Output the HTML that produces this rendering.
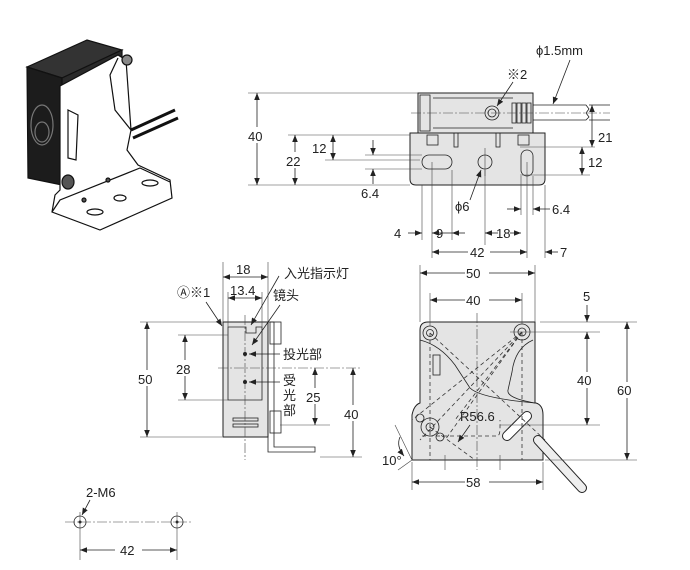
<!DOCTYPE html>
<html><head><meta charset="utf-8"><style>
html,body{margin:0;padding:0;background:#fff;width:690px;height:570px;overflow:hidden}
svg{display:block}
text{font-family:"Liberation Sans","Noto Sans CJK SC",sans-serif;font-size:13px;fill:#222}
.l{stroke:#222;stroke-width:0.8;fill:none}
.t{stroke:#444;stroke-width:0.6;fill:none}
.c{stroke:#444;stroke-width:0.6;fill:none;stroke-dasharray:10 2 2 2}
.d{stroke:#333;stroke-width:0.8;fill:none;stroke-dasharray:4 3}
.p{fill:#e4e4e4;stroke:#222;stroke-width:1}
</style></head><body>
<svg width="690" height="570" viewBox="0 0 690 570" xmlns="http://www.w3.org/2000/svg">
<defs>
<marker id="a" viewBox="0 0 10 10" refX="10" refY="5" markerWidth="7" markerHeight="7" markerUnits="userSpaceOnUse" orient="auto-start-reverse"><path d="M0,1 L10,5 L0,9z" fill="#222"/></marker>
</defs>

<!-- ===== Photo (top-left) ===== -->
<g stroke="#111" stroke-width="1.2">
<path d="M27,67 L87,40 L122,50 L62,78z" fill="#333"/>
<path d="M27,67 L62,78 L62,185 L28,178z" fill="#1c1c1c"/>
<path d="M62,78 L122,50 L122,75 L62,110z" fill="#2a2a2a"/>
<ellipse cx="42" cy="125" rx="11" ry="20" fill="none" stroke="#777"/>
<ellipse cx="42" cy="132" rx="7" ry="10" fill="none" stroke="#777"/>
<path d="M60,86 L118,55 L126,60 L131,130 L127,150 L138,165 L170,180 L172,198 L100,230 L52,212 L55,195 L60,190z" fill="#fff"/>
<path d="M118,58 L110,75 L115,110 L131,130" fill="none"/>
<path d="M68,110 L78,115 L76,160 L68,158z" fill="#fff"/>
<path d="M52,212 L60,200 L140,168 L170,182" fill="none"/>
<path d="M131,130 L175,110 M133,138 L178,118" stroke="#111" stroke-width="3"/>
<ellipse cx="68" cy="182" rx="6" ry="7" fill="#555"/>
<circle cx="127" cy="60" r="5" fill="#888"/>
<ellipse cx="95" cy="212" rx="8" ry="3" fill="none"/>
<ellipse cx="120" cy="198" rx="6" ry="3" fill="none"/>
<ellipse cx="150" cy="183" rx="8" ry="3" fill="none"/>
<circle cx="84" cy="200" r="2" fill="#555"/><circle cx="108" cy="180" r="2" fill="#555"/>
</g>

<!-- ===== Top-right drawing ===== -->
<rect x="418" y="93" width="115" height="40" class="p" fill="#eee"/>
<line x1="433" y1="98" x2="513" y2="98" class="l"/>
<line x1="433" y1="128" x2="513" y2="128" class="l"/>
<rect x="420" y="95" width="10" height="36" class="l"/>
<circle cx="492" cy="113" r="7" class="l"/><circle cx="492" cy="113" r="4" class="l"/>
<g class="l"><rect x="512" y="103" width="4" height="20"/><rect x="517" y="103" width="4" height="20"/><rect x="522" y="103" width="4" height="20"/><rect x="527" y="103" width="4" height="20"/></g>
<path d="M533,105 L586,105 L589,109 L586,113 L589,117 L586,120 L533,120" class="l" fill="#f4f4f4"/>
<path d="M589,105 L610,105 M589,120 L610,120" class="l"/>
<line x1="411" y1="113" x2="610" y2="113" class="c"/>
<path d="M410,133 L545,133 L545,179 Q545,185 539,185 L416,185 Q410,185 410,179z" class="p"/>
<rect x="422" y="155" width="30" height="14" rx="7" fill="#fff" class="l"/>
<circle cx="485" cy="162" r="7" fill="#fff" class="l"/>
<rect x="521" y="150" width="12" height="26" rx="6" fill="#fff" class="l"/>
<rect x="427" y="135" width="11" height="10" class="l" fill="#ccc"/><rect x="518" y="135" width="11" height="10" class="l" fill="#ccc"/>
<rect x="454" y="133" width="4" height="14" class="l"/><rect x="496" y="133" width="4" height="14" class="l"/>
<!-- dims -->
<g class="t">
<line x1="248" y1="93" x2="418" y2="93"/><line x1="248" y1="185" x2="410" y2="185"/>
<line x1="288" y1="135" x2="410" y2="135"/><line x1="325" y1="160" x2="420" y2="160"/>
<line x1="365" y1="155" x2="422" y2="155"/><line x1="365" y1="169" x2="422" y2="169"/>
<line x1="520" y1="147" x2="595" y2="147"/><line x1="520" y1="175" x2="590" y2="175"/>
<line x1="422" y1="185" x2="422" y2="240"/><line x1="432" y1="162" x2="432" y2="258"/>
<line x1="452" y1="170" x2="452" y2="240"/><line x1="485" y1="170" x2="485" y2="245"/>
<line x1="521" y1="176" x2="521" y2="215"/><line x1="527" y1="162" x2="527" y2="258"/>
<line x1="533" y1="176" x2="533" y2="215"/><line x1="545" y1="185" x2="545" y2="258"/>
<line x1="485" y1="148" x2="485" y2="176"/>
</g>
<g class="l" marker-start="url(#a)" marker-end="url(#a)">
<line x1="257" y1="93" x2="257" y2="185"/>
<line x1="295" y1="135" x2="295" y2="185"/>
<line x1="333" y1="135" x2="333" y2="160"/>
<line x1="582" y1="147" x2="582" y2="175"/>
<line x1="592" y1="105" x2="592" y2="147"/>
</g>
<g class="l" marker-end="url(#a)">
<line x1="373" y1="140" x2="373" y2="155"/><line x1="373" y1="184" x2="373" y2="169"/>
<line x1="507" y1="209" x2="521" y2="209"/><line x1="550" y1="209" x2="533" y2="209"/>
<line x1="408" y1="233" x2="422" y2="233"/><line x1="446" y1="233" x2="432" y2="233"/>
<line x1="446" y1="233" x2="452" y2="233" marker-end="none"/>
<line x1="465" y1="233" x2="452" y2="233"/><line x1="498" y1="233" x2="485" y2="233"/>
<line x1="510" y1="233" x2="521" y2="233"/>
<line x1="468" y1="252" x2="432" y2="252"/><line x1="490" y1="252" x2="527" y2="252"/>
<line x1="558" y1="252" x2="545" y2="252"/>
<line x1="570" y1="60" x2="553" y2="104"/><line x1="513" y1="82" x2="497" y2="106"/>
<line x1="470" y1="200" x2="481" y2="170"/>
</g>
<g fill="#fff"><rect x="248" y="127" width="20" height="16"/><rect x="286" y="152" width="18" height="16"/></g>
<text x="248" y="141">40</text><text x="286" y="166">22</text><text x="312" y="153">12</text>
<text x="361" y="198">6.4</text><text x="588" y="167">12</text><text x="598" y="142">21</text>
<text x="536" y="55">ϕ1.5mm</text><text x="507" y="79">※2</text><text x="455" y="211">ϕ6</text>
<text x="552" y="214">6.4</text><text x="394" y="238">4</text><text x="436" y="238">9</text>
<text x="496" y="238">18</text><text x="470" y="257">42</text><text x="560" y="257">7</text>

<!-- ===== Side view (left middle) ===== -->
<rect x="223" y="322" width="45" height="115" class="p" fill="#eee"/>
<path d="M228,400 L228,327 L246,327 L246,333 L256,333 L256,327 L262,327 L262,400z" class="l" fill="#e4e4e4"/>
<g class="l"><rect x="233" y="418" width="25" height="3"/><rect x="233" y="424" width="25" height="3"/></g>
<path d="M268,322 L274,322 L274,447 L315,447 L315,452 L268,452z" class="l" fill="#eee"/>
<rect x="270" y="322" width="11" height="22" class="l" fill="#ddd"/>
<rect x="270" y="411" width="11" height="22" class="l" fill="#ddd"/>
<line x1="245" y1="315" x2="245" y2="460" class="c"/>
<line x1="218" y1="368" x2="360" y2="368" class="c"/>
<circle cx="245" cy="354" r="2" fill="#222"/><circle cx="245" cy="382" r="2" fill="#222"/>
<g class="t">
<line x1="223" y1="262" x2="223" y2="322"/><line x1="268" y1="262" x2="268" y2="322"/>
<line x1="228" y1="292" x2="228" y2="327"/><line x1="262" y1="292" x2="262" y2="327"/>
<line x1="140" y1="322" x2="222" y2="322"/><line x1="140" y1="437" x2="222" y2="437"/>
<line x1="178" y1="335" x2="228" y2="335"/><line x1="178" y1="400" x2="228" y2="400"/>
<line x1="280" y1="425" x2="330" y2="425"/><line x1="320" y1="457" x2="362" y2="457"/>
</g>
<g class="l" marker-start="url(#a)" marker-end="url(#a)">
<line x1="223" y1="277" x2="268" y2="277"/><line x1="228" y1="298" x2="262" y2="298"/>
<line x1="147" y1="322" x2="147" y2="437"/><line x1="185" y1="335" x2="185" y2="400"/>
<line x1="315" y1="368" x2="315" y2="425"/><line x1="353" y1="368" x2="353" y2="457"/>
</g>
<g class="l" marker-end="url(#a)">
<line x1="279" y1="276" x2="251" y2="325"/><line x1="280" y1="305" x2="252" y2="345"/>
<line x1="280" y1="354" x2="249" y2="354"/><line x1="280" y1="382" x2="249" y2="382"/>
<line x1="206" y1="302" x2="222" y2="326"/>
</g>
<g fill="#fff"><rect x="136" y="370" width="22" height="16"/><rect x="175" y="360" width="20" height="16"/><rect x="305" y="388" width="20" height="16"/><rect x="343" y="405" width="20" height="16"/></g>
<text x="236" y="274">18</text><text x="230" y="295">13.4</text>
<text x="138" y="384">50</text><text x="176" y="374">28</text><text x="306" y="402">25</text><text x="344" y="419">40</text>
<text x="284" y="278">入光指示灯</text><text x="273" y="300">镜头</text>
<text x="283" y="359">投光部</text>
<text x="283" y="385">受</text><text x="283" y="400">光</text><text x="283" y="415">部</text>
<text x="177" y="297">Ⓐ※1</text>

<!-- ===== Front view (right middle) ===== -->
<path d="M420,330 Q420,322 428,322 L535,322 L535,403 L536,403 Q543,405 543,415 L543,460 L412,460 L412,415 Q414,405 420,403z" class="p"/>
<path d="M420,340 Q440,345 455,365 L470,388 Q480,398 535,403" class="l"/>
<path d="M533,340 Q515,348 512,372 L508,390 Q506,398 535,403" class="l"/>
<circle cx="430" cy="333" r="7" class="l" fill="#ddd"/><circle cx="430" cy="333" r="3.5" fill="#fff" class="l"/>
<circle cx="522" cy="332" r="8" class="l" fill="#ddd"/><circle cx="522" cy="332" r="4" fill="#fff" class="l"/>
<rect x="433" y="355" width="7" height="20" class="l" fill="#fff"/>
<circle cx="430" cy="427" r="9" class="l" fill="#ddd"/><circle cx="430" cy="427" r="4" class="l" fill="#fff"/>
<circle cx="420" cy="418" r="4" class="l"/><circle cx="440" cy="437" r="4" class="l"/>
<path d="M507,436 L527,416" stroke="#222" stroke-width="10" stroke-linecap="round"/>
<path d="M507,436 L527,416" stroke="#fff" stroke-width="8" stroke-linecap="round"/>
<path d="M422,436 L497,436 Q500,436 500,428 L500,420" class="d"/>
<path d="M538,440 L582,488" stroke="#222" stroke-width="10" stroke-linecap="round"/>
<path d="M538,440 L582,488" stroke="#eee" stroke-width="8" stroke-linecap="round"/>
<line x1="477" y1="313" x2="477" y2="470" class="c"/>
<g class="d" stroke-width="0.6">
<line x1="522" y1="332" x2="412" y2="420"/><line x1="522" y1="332" x2="420" y2="440"/>
<line x1="522" y1="332" x2="445" y2="440"/><line x1="522" y1="332" x2="455" y2="420"/>
<line x1="430" y1="333" x2="545" y2="440"/><line x1="430" y1="427" x2="475" y2="460"/>
<line x1="430" y1="333" x2="430" y2="460"/><line x1="522" y1="332" x2="522" y2="460"/>
</g>
<g class="t">
<line x1="420" y1="265" x2="420" y2="322"/><line x1="535" y1="265" x2="535" y2="322"/>
<line x1="430" y1="293" x2="430" y2="326"/><line x1="522" y1="293" x2="522" y2="324"/>
<line x1="540" y1="322" x2="637" y2="322"/><line x1="510" y1="332" x2="600" y2="332"/>
<line x1="500" y1="425" x2="600" y2="425"/><line x1="545" y1="460" x2="637" y2="460"/>
<line x1="412" y1="462" x2="412" y2="490"/><line x1="543" y1="462" x2="543" y2="490"/>
<line x1="412" y1="460" x2="395" y2="425"/><line x1="412" y1="460" x2="398" y2="470"/>
<line x1="445" y1="455" x2="445" y2="470"/><line x1="500" y1="455" x2="500" y2="470"/>
</g>
<g class="l" marker-start="url(#a)" marker-end="url(#a)">
<line x1="420" y1="273" x2="535" y2="273"/><line x1="430" y1="300" x2="522" y2="300"/>
<line x1="587" y1="332" x2="587" y2="425"/><line x1="627" y1="322" x2="627" y2="460"/>
<line x1="412" y1="482" x2="543" y2="482"/>
</g>
<g class="l" marker-end="url(#a)">
<line x1="587" y1="305" x2="587" y2="322"/><line x1="470" y1="425" x2="458" y2="442"/>
<path d="M400,437 Q396,446 404,456"/>
</g>
<g fill="#fff"><rect x="465" y="265" width="24" height="16"/><rect x="465" y="292" width="24" height="16"/><rect x="576" y="372" width="22" height="16"/><rect x="616" y="382" width="22" height="16"/><rect x="465" y="474" width="24" height="16"/></g>
<text x="466" y="278">50</text><text x="466" y="305">40</text><text x="583" y="301">5</text>
<text x="577" y="385">40</text><text x="617" y="395">60</text><text x="466" y="487">58</text>
<text x="460" y="421">R56.6</text><text x="382" y="465">10°</text>

<!-- ===== Bottom-left holes ===== -->
<line x1="65" y1="522" x2="192" y2="522" class="c"/>
<circle cx="80" cy="522" r="6" class="l"/><circle cx="177" cy="522" r="6" class="l"/>
<circle cx="80" cy="522" r="1.5" fill="#222"/><circle cx="177" cy="522" r="1.5" fill="#222"/>
<g class="t"><line x1="80" y1="512" x2="80" y2="560"/><line x1="177" y1="512" x2="177" y2="560"/></g>
<g class="l" marker-end="url(#a)"><line x1="115" y1="550" x2="80" y2="550"/><line x1="142" y1="550" x2="177" y2="550"/><line x1="90" y1="500" x2="82" y2="515"/></g>
<text x="120" y="555">42</text><text x="86" y="497">2-M6</text>
</svg>
</body></html>
